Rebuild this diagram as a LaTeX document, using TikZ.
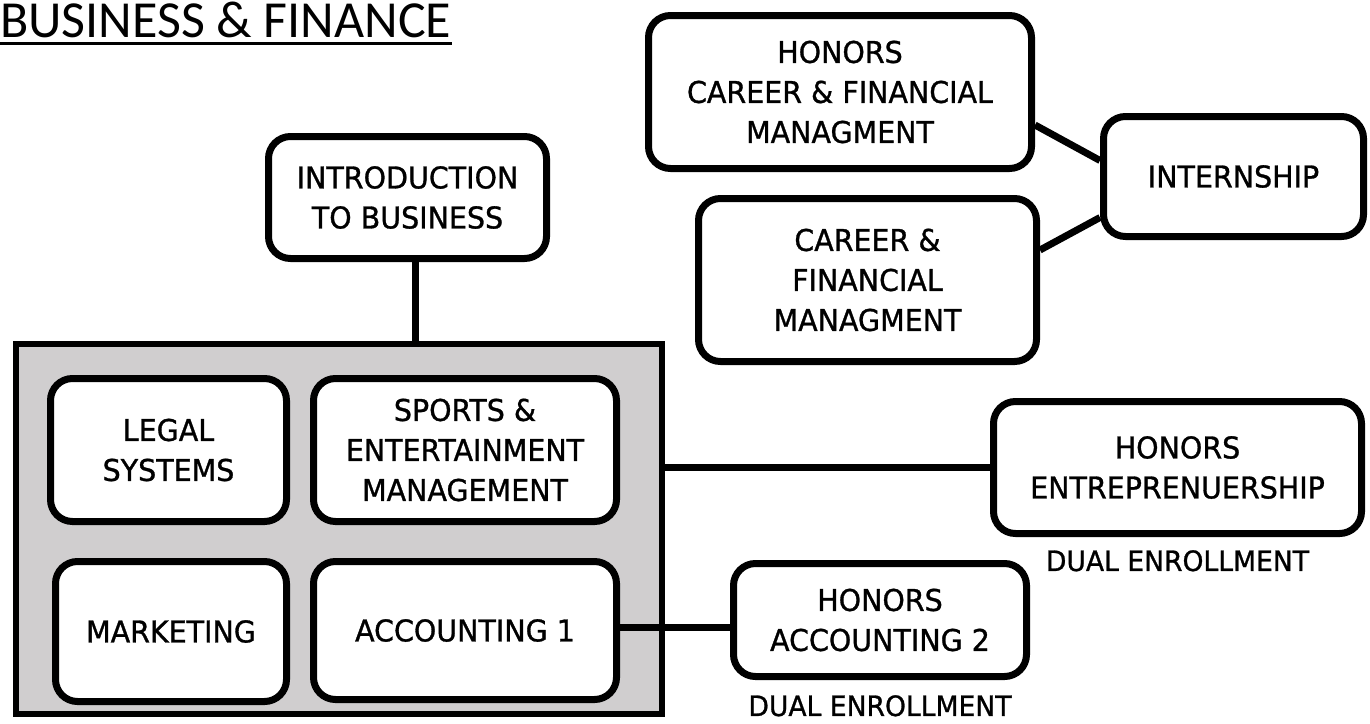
\documentclass[tikz,border=0pt]{standalone}
\usepackage{fontspec}
\setmainfont{DejaVu Sans}[FakeStretch=0.95, FakeBold=1]
\newfontfamily\titlefont{Carlito}
\usepackage{xcolor}
\usetikzlibrary{positioning,calc}
\definecolor{groupgray}{RGB}{208,206,207}

\begin{document}
\begin{tikzpicture}[
    x=1pt, y=-1pt,
    every node/.style={inner sep=0pt},
    course/.style={rectangle, rounded corners=22pt, fill=white, draw=black, line width=7pt, align=center, font=\fontsize{30}{40}\selectfont},
    group/.style={rectangle, fill=groupgray, draw=black, line width=6pt},
    note/.style={font=\fontsize{28}{30}\selectfont},
    link/.style={line width=7pt}
]

% Frame
\useasboundingbox (0,0) rectangle (1370,723);

% Title
\node[anchor=base west, font=\titlefont\fontsize{52}{60}\selectfont] (title) at (0,37) {BUSINESS \& FINANCE};
\draw[line width=3pt] ([yshift=-6pt]title.base west) -- ([yshift=-6pt]title.base east);

% Core group of courses
\node[group, minimum width=646pt, minimum height=370pt] (core) at (338.5,528.5) {};
\node[course, minimum width=236pt, minimum height=143pt] (legal) at (168.5,450) {LEGAL\\SYSTEMS};
\node[course, minimum width=303pt, minimum height=143pt] (sports) at (465,450) {SPORTS \&\\ENTERTAINMENT\\MANAGEMENT};
\node[course, minimum width=231pt, minimum height=140pt] (marketing) at (171,631.5) {MARKETING};
\node[course, minimum width=303pt, minimum height=138pt] (acct) at (465,630.5) {ACCOUNTING 1};

% Intro course
\node[course, minimum width=278pt, minimum height=122pt] (intro) at (407.5,197.5) {INTRODUCTION\\TO BUSINESS};

% Honors courses
\node[course, minimum width=368pt, minimum height=132pt] (hent) at (1177.5,467.5) {HONORS\\ENTREPRENUERSHIP};
\node[note, below=13pt of hent] (hentnote) {DUAL ENROLLMENT};
\node[course, minimum width=293pt, minimum height=113pt] (hacct) at (880,620) {HONORS\\ACCOUNTING 2};
\node[note, below=15pt of hacct] (hacctnote) {DUAL ENROLLMENT};

% Career courses and internship
\node[course, minimum width=383pt, minimum height=153pt] (hcfm) at (840,92) {HONORS\\CAREER \& FINANCIAL\\MANAGMENT};
\node[course, minimum width=338pt, minimum height=163pt] (cfm) at (867.5,280) {CAREER \&\\FINANCIAL\\MANAGMENT};
\node[course, minimum width=260pt, minimum height=120pt] (intern) at (1233.5,176.5) {INTERNSHIP};

% Links
\draw[link] ([xshift=7.5pt]intro.south) -- ([xshift=7.5pt]intro.south |- core.north);
\draw[link] (hent.west) -- (hent.west -| core.east);
\draw[link] ([yshift=3pt]acct.east) -- ([yshift=3pt]acct.east -| hacct.west);
\draw[link] ([yshift=-33pt]hcfm.east) -- ([yshift=16pt]intern.west);
\draw[link] ([yshift=30pt]cfm.east) -- ([yshift=-41pt]intern.west);

\end{tikzpicture}
\end{document}
